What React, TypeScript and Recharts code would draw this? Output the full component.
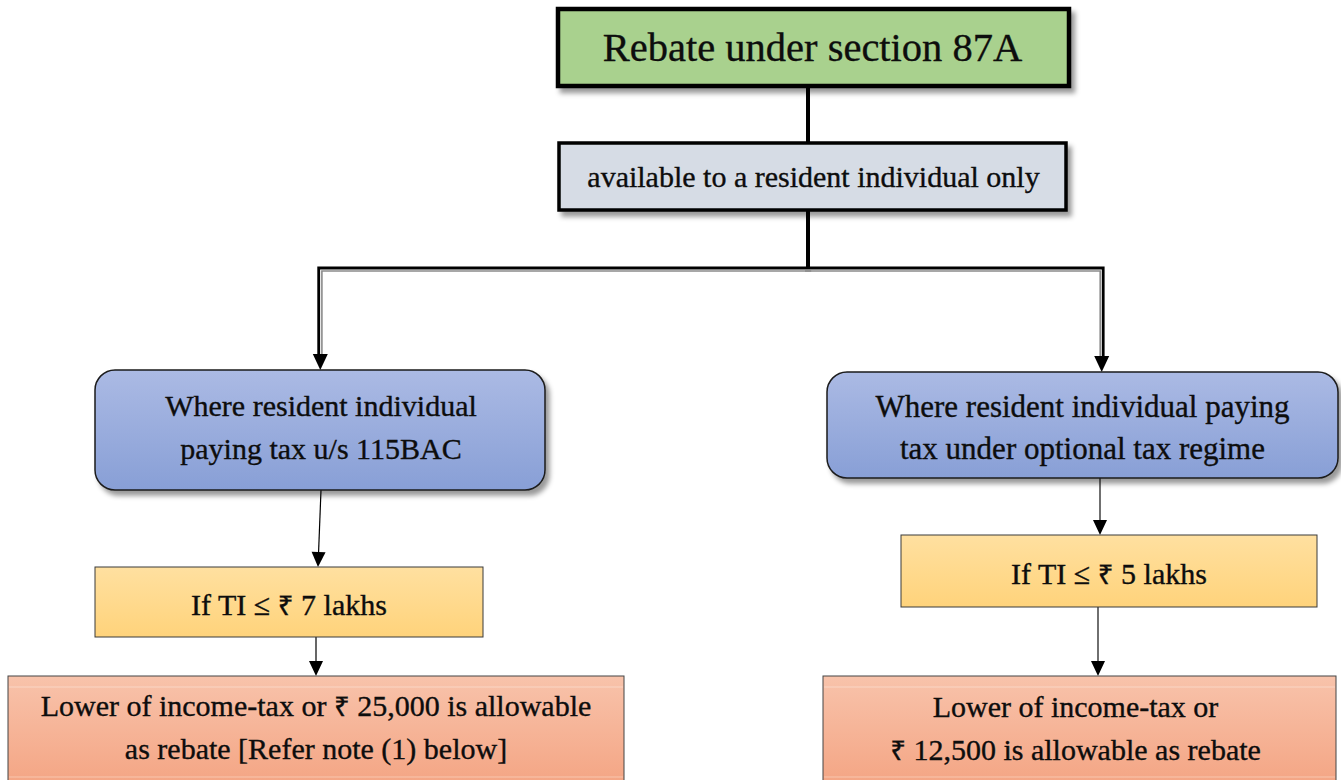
import React from 'react';
import { ScatterChart, Scatter, XAxis, YAxis } from 'recharts';

// flowchart nodes: label lines and centre position (in chart units, 0..1341 x 0..780)
const nodeKeys = ['rebate', 'scope', 'newRegime', 'oldRegime', 'limitNew', 'limitOld', 'amountNew', 'amountOld'];
const nodeKinds = ['title', 'scope', 'regime', 'regime', 'limit', 'limit', 'amount', 'amount'];
const nodeLabels = [
  ['Rebate under section 87A'],
  ['available to a resident individual only'],
  ['Where resident individual', 'paying tax u/s 115BAC'],
  ['Where resident individual paying', 'tax under optional tax regime'],
  ['If TI ≤ ₹ 7 lakhs'],
  ['If TI ≤ ₹ 5 lakhs'],
  ['Lower of income-tax or ₹ 25,000 is allowable', 'as rebate [Refer note (1) below]'],
  ['Lower of income-tax or', '₹ 12,500 is allowable as rebate'],
];
const nodeX = [813.5, 812.5, 320, 1082.5, 289, 1109, 316, 1079.5];
const nodeY = [47.5, 176.5, 430, 425, 602, 571, 741, 741];

// connectors: waypoints, last point is where the arrow ends
const edgeKinds = ['trunk', 'trunk', 'branchLeft', 'branchRight', 'thin', 'thinGrey', 'thin', 'thinGrey'];
const edgeX = [[808, 808], [808, 808], [808, 318.7, 318.7], [808, 1103.2, 1103.2], [321, 318], [1100, 1100], [316, 316], [1098, 1098]];
const edgeY = [[86, 143], [210, 268], [268, 268, 370], [268, 268, 372], [490, 567], [478, 535], [637, 676], [607, 676]];

const W = 1341;
const H = 780;
const FONT = '"Liberation Serif", "DejaVu Serif", serif';
const RUPEE_FONT = '"Noto Sans", "DejaVu Sans", sans-serif';

// box sizes and text offsets per node
const BOX: Record<string, { w: number; h: number; tx: number; dy: number[]; fs?: number }> = {
  rebate: { w: 511, h: 77, tx: -1, dy: [-0.5] },
  scope: { w: 507, h: 67, tx: 1, dy: [-0.5] },
  newRegime: { w: 450, h: 120, tx: 1, dy: [-25, 18] },
  oldRegime: { w: 511, h: 106, tx: 0, dy: [-19, 23], fs: 31 },
  limitNew: { w: 388, h: 70, tx: 0, dy: [2] },
  limitOld: { w: 416, h: 72, tx: 0, dy: [2] },
  amountNew: { w: 616, h: 130, tx: 0, dy: [-36, 7] },
  amountOld: { w: 513, h: 130, tx: -4, dy: [-35, 8] },
};

const KIND: Record<string, any> = {
  title: { fill: '#a9d18e', stroke: '#000', sw: 4.5, r: 0, shadow: true, font: 40.5 },
  scope: { fill: '#d6dce5', stroke: '#000', sw: 3.5, r: 0, shadow: true, font: 30 },
  regime: { fill: 'url(#gBlue)', stroke: '#1b1b1b', sw: 1.5, r: 20, shadow: true, font: 30 },
  limit: { fill: 'url(#gGold)', stroke: '#3a3a3a', sw: 1, r: 0, shadow: false, font: 30 },
  amount: { fill: 'url(#gSalmon)', stroke: '#444', sw: 1, r: 0, shadow: false, font: 30, bevel: true },
};

const EDGE: Record<string, any> = {
  trunk: { stroke: '#000', width: 4, arrow: false },
  branchLeft: { stroke: '#000', width: 2.8, arrow: true, inner: [3.2, 3], aw: 15, ah: 16 },
  branchRight: { stroke: '#000', width: 2.8, arrow: true, inner: [-3, 3], aw: 15, ah: 16 },
  thin: { stroke: '#000', width: 1.2, arrow: true, aw: 14, ah: 15 },
  thinGrey: { stroke: '#333', width: 1.4, arrow: true, aw: 14, ah: 15 },
};

const nodeData = nodeKeys.map((key, i) => ({
  key,
  kind: nodeKinds[i],
  lines: nodeLabels[i],
  x: nodeX[i],
  y: nodeY[i],
}));

const edgeData = edgeKinds.map((kind, i) => ({
  kind,
  points: edgeX[i].map((x, j) => ({ x, y: edgeY[i][j] })),
}));

// the rupee sign is missing from the serif font, give it a lighter fallback
const renderLabel = (t: string) =>
  t.split('₹').map((part, j) => (
    <React.Fragment key={j}>
      {j > 0 && <tspan fontFamily={RUPEE_FONT} fontSize="0.92em">₹</tspan>}
      {part}
    </React.Fragment>
  ));

const NodeShape = (props: any) => {
  const { cx, cy, payload } = props;
  const box = BOX[payload.key];
  const k = KIND[payload.kind];
  const x = cx - box.w / 2;
  const y = cy - box.h / 2;
  return (
    <g>
      <rect
        x={x}
        y={y}
        width={box.w}
        height={box.h}
        rx={k.r}
        ry={k.r}
        fill={k.fill}
        stroke={k.stroke}
        strokeWidth={k.sw}
        filter={k.shadow ? 'url(#drop)' : undefined}
      />
      {k.bevel && (
        <g stroke="#fff" strokeOpacity={0.35} strokeWidth={1}>
          <line x1={x + 1} x2={x + box.w - 1} y1={y + 11} y2={y + 11} />
          <line x1={x + 1} x2={x + box.w - 1} y1={y + 101} y2={y + 101} />
        </g>
      )}
      {payload.lines.map((t: string, i: number) => (
        <text
          key={i}
          x={cx + box.tx}
          y={cy + box.dy[i]}
          textAnchor="middle"
          dominantBaseline="central"
          fontFamily={FONT}
          fontSize={box.fs || k.font}
          fill="#0d0d0d"
          stroke="#0d0d0d"
          strokeWidth={0.35}
        >
          {renderLabel(t)}
        </text>
      ))}
    </g>
  );
};

const drawConnector = (kind: string) => (props: any) => {
  const s = EDGE[kind];
  const pts: { x: number; y: number }[] = props.points;
  const n = pts.length;
  const tip = pts[n - 1];
  const prev = pts[n - 2];
  const len = Math.hypot(tip.x - prev.x, tip.y - prev.y) || 1;
  const ux = (tip.x - prev.x) / len;
  const uy = (tip.y - prev.y) / len;
  const line = s.arrow
    ? [...pts.slice(0, n - 1), { x: tip.x - ux * (s.ah - 1), y: tip.y - uy * (s.ah - 1) }]
    : pts;
  const d = line.map((p, i) => `${i ? 'L' : 'M'}${p.x},${p.y}`).join(' ');
  let arrow = null;
  if (s.arrow) {
    const shift = s.inner ? s.inner[0] / 2 : 0;
    const tx = tip.x + shift;
    const bx = tx - ux * s.ah;
    const by = tip.y - uy * s.ah;
    const px = -uy * (s.aw / 2);
    const py = ux * (s.aw / 2);
    arrow = <polygon points={`${tx},${tip.y} ${bx + px},${by + py} ${bx - px},${by - py}`} fill="#000" />;
  }
  return (
    <g>
      {s.inner && (
        <path
          d={d}
          transform={`translate(${s.inner[0]},${s.inner[1]})`}
          fill="none"
          stroke="#8a8a8a"
          strokeWidth={1.6}
        />
      )}
      <path d={d} fill="none" stroke={s.stroke} strokeWidth={s.width} strokeLinejoin="miter" />
      {arrow}
    </g>
  );
};

const Empty = () => <g />;

export default function App() {
  return (
    <div style={{ position: 'absolute', left: 0, top: 0, background: '#fff' }}>
      <ScatterChart width={W} height={H} margin={{ top: 0, right: 0, bottom: 0, left: 0 }}>
        <defs>
          <linearGradient id="gBlue" x1="0" y1="0" x2="0" y2="1">
            <stop offset="0" stopColor="#abbae4" />
            <stop offset="1" stopColor="#889fd6" />
          </linearGradient>
          <linearGradient id="gGold" x1="0" y1="0" x2="0" y2="1">
            <stop offset="0" stopColor="#ffe0a0" />
            <stop offset="1" stopColor="#ffd37b" />
          </linearGradient>
          <linearGradient id="gSalmon" x1="0" y1="0" x2="0" y2="1">
            <stop offset="0" stopColor="#f8c3ab" />
            <stop offset="1" stopColor="#f39f7c" />
          </linearGradient>
          <filter id="drop" x="-10%" y="-20%" width="125%" height="150%">
            <feDropShadow dx="4" dy="5" stdDeviation="2.5" floodColor="#000" floodOpacity="0.4" />
          </filter>
        </defs>
        <XAxis type="number" dataKey="x" domain={[0, W]} allowDataOverflow hide />
        <YAxis type="number" dataKey="y" domain={[0, H]} allowDataOverflow reversed hide />
        {edgeData.map((e, i) => (
          <Scatter
            key={`edge-${i}`}
            data={e.points}
            line={drawConnector(e.kind)}
            shape={Empty}
            isAnimationActive={false}
          />
        ))}
        <Scatter data={nodeData} shape={NodeShape} isAnimationActive={false} />
      </ScatterChart>
    </div>
  );
}
